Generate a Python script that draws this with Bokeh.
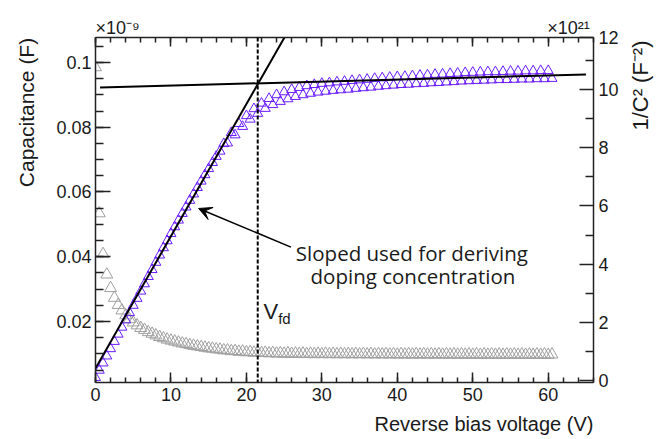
from math import pi
from bokeh.plotting import figure
from bokeh.models import (Range1d, LinearAxis, FixedTicker, CustomJSTickFormatter,
                          Label, Arrow, VeeHead, Span, ColumnDataSource)
from bokeh.embed import file_html
from bokeh.resources import INLINE

# ---------------- data ----------------
voltage = [0.0, 0.5, 1.0, 1.5, 2.0, 2.5, 3.0, 3.5, 4.0, 4.5,
           5.0, 5.5, 6.0, 6.5, 7.0, 7.5, 8.0, 8.5, 9.0, 9.5,
           10.0, 10.5, 11.0, 11.5, 12.0, 12.5, 13.0, 13.5, 14.0, 14.5,
           15.0, 15.5, 16.0, 16.5, 17.0, 17.5, 18.0, 18.5, 19.0, 19.5,
           20.0, 20.5, 21.0, 21.5, 22.0, 22.5, 23.0, 23.5, 24.0, 24.5,
           25.0, 25.5, 26.0, 26.5, 27.0, 27.5, 28.0, 28.5, 29.0, 29.5,
           30.0, 30.5, 31.0, 31.5, 32.0, 32.5, 33.0, 33.5, 34.0, 34.5,
           35.0, 35.5, 36.0, 36.5, 37.0, 37.5, 38.0, 38.5, 39.0, 39.5,
           40.0, 40.5, 41.0, 41.5, 42.0, 42.5, 43.0, 43.5, 44.0, 44.5,
           45.0, 45.5, 46.0, 46.5, 47.0, 47.5, 48.0, 48.5, 49.0, 49.5,
           50.0, 50.5, 51.0, 51.5, 52.0, 52.5, 53.0, 53.5, 54.0, 54.5,
           55.0, 55.5, 56.0, 56.5, 57.0, 57.5, 58.0, 58.5, 59.0, 59.5,
           60.0, 60.5]

# capacitance, in units of 1e-9 F (left axis)
capacitance = [0.0985, 0.0534, 0.0408, 0.0345, 0.0303, 0.0273, 0.0251, 0.0234, 0.0219, 0.0207,
               0.0197, 0.0188, 0.0180, 0.0174, 0.0167, 0.0162, 0.0157, 0.0152, 0.0148, 0.0144,
               0.0141, 0.0138, 0.0135, 0.0132, 0.0130, 0.0127, 0.0125, 0.0123, 0.0121, 0.0119,
               0.0117, 0.0116, 0.0114, 0.0113, 0.01108, 0.01107, 0.01083, 0.01088, 0.01064, 0.01070,
               0.01048, 0.01055, 0.01035, 0.01044, 0.01024, 0.01034, 0.01016, 0.01027, 0.01009, 0.01021,
               0.01004, 0.01016, 0.01000, 0.01012, 0.00996, 0.01009, 0.00993, 0.01006, 0.00991, 0.01004,
               0.00990, 0.01003, 0.00989, 0.01001, 0.00987, 0.01000, 0.00986, 0.00999, 0.00985, 0.00998,
               0.00984, 0.00997, 0.00983, 0.00996, 0.00981, 0.00994, 0.00981, 0.00993, 0.00980, 0.00992,
               0.00979, 0.00991, 0.00978, 0.00991, 0.00977, 0.00990, 0.00976, 0.00990, 0.00976, 0.00989,
               0.00975, 0.00988, 0.00974, 0.00987, 0.00973, 0.00987, 0.00973, 0.00986, 0.00972, 0.00985,
               0.00972, 0.00985, 0.00971, 0.00984, 0.00971, 0.00984, 0.00971, 0.00983, 0.00970, 0.00983,
               0.00970, 0.00983, 0.00970, 0.00982, 0.00969, 0.00982, 0.00969, 0.00982, 0.00969, 0.00982,
               0.00969, 0.00981]

# 1/C^2, in units of 1e21 F^-2 (right axis)
inv_c2 = [0.10, 0.35, 0.60, 0.84, 1.09, 1.34, 1.59, 1.83, 2.08, 2.33,
          2.58, 2.82, 3.07, 3.32, 3.57, 3.81, 4.06, 4.31, 4.56, 4.80,
          5.05, 5.28, 5.51, 5.74, 5.96, 6.19, 6.41, 6.63, 6.85, 7.07,
          7.28, 7.49, 7.70, 7.88, 8.14, 8.16, 8.52, 8.44, 8.83, 8.73,
          9.10, 8.98, 9.34, 9.18, 9.53, 9.35, 9.69, 9.48, 9.82, 9.59,
          9.92, 9.68, 10.00, 9.76, 10.07, 9.82, 10.13, 9.87, 10.17, 9.91,
          10.21, 9.94, 10.23, 9.97, 10.26, 9.99, 10.28, 10.01, 10.31, 10.04,
          10.33, 10.06, 10.35, 10.08, 10.38, 10.11, 10.40, 10.13, 10.42, 10.15,
          10.44, 10.17, 10.45, 10.18, 10.47, 10.20, 10.49, 10.21, 10.50, 10.23,
          10.52, 10.24, 10.53, 10.26, 10.55, 10.27, 10.56, 10.29, 10.58, 10.30,
          10.59, 10.31, 10.60, 10.32, 10.61, 10.33, 10.61, 10.34, 10.62, 10.34,
          10.63, 10.35, 10.63, 10.36, 10.64, 10.36, 10.64, 10.37, 10.65, 10.37,
          10.65, 10.38]

slope_fit_v = [0.0, 27.0]
slope_fit_r = [0.42, 12.68]
plateau_fit_v = [0.6, 65.0]
plateau_fit_r = [10.07, 10.52]
v_fd = 21.5

x_ticks = [0, 10, 20, 30, 40, 50, 60]
x_minor = [0, 2, 4, 6, 8, 10, 12, 14, 16, 18, 20, 22, 24, 26, 28, 30, 32, 34,
           36, 38, 40, 42, 44, 46, 48, 50, 52, 54, 56, 58, 60, 62, 64, 66]
left_ticks = [0.02, 0.04, 0.06, 0.08, 0.1]
left_minor = [0.005, 0.01, 0.015, 0.02, 0.025, 0.03, 0.035, 0.04, 0.045, 0.05, 0.055,
              0.06, 0.065, 0.07, 0.075, 0.08, 0.085, 0.09, 0.095, 0.1, 0.105]
right_ticks = [0, 2, 4, 6, 8, 10, 11.78]   # last one carries the "12" label at the top edge
right_minor = [1, 3, 5, 7, 9, 11]

# anchor positions (in axis units) of the outer texts
exp_ticks = [2.93, 62.7]       # "x10^-9" / "x10^21" multipliers (x, centred)
xlabel_pos = [51.48]           # "Reverse bias voltage (V)" (x, centred)
ylabel_left_pos = [0.1076]     # "Capacitance (F)" ends here (left axis units)
ylabel_right_pos = [8.59]      # "1/C^2 (F^-2)" starts here (right axis units)

# ---------------- figure ----------------
W, H = 668, 439
p = figure(width=W, height=H, output_backend="svg", toolbar_location=None,
           x_range=Range1d(0, 66.0), y_range=Range1d(0.00116, 0.1077),
           x_axis_location=None, y_axis_location=None,
           min_border_left=92, min_border_right=W - 599, min_border_top=37,
           min_border_bottom=H - 382)
p.extra_y_ranges = {"r": Range1d(-0.069, 11.79)}
p.outline_line_color = None
p.background_fill_color = "white"
p.border_fill_color = "white"
for g in p.grid:
    g.visible = False

AX = "#222222"
TXT = "#1a1a1a"
FONT = "Liberation Sans"


def style(ax, tin, tmin):
    ax.axis_line_color = AX
    ax.axis_line_width = 1.5
    ax.major_tick_line_color = AX
    ax.major_tick_line_width = 1.5
    ax.minor_tick_line_color = AX
    ax.minor_tick_line_width = 1.5
    ax.major_tick_in = tin
    ax.major_tick_out = 0
    ax.minor_tick_in = tmin
    ax.minor_tick_out = 0
    ax.major_label_text_font = FONT
    ax.major_label_text_font_size = "18px"
    ax.major_label_text_color = TXT


def text_axis(ax, size, standoff):
    """An axis that only carries a text label (no line, no ticks)."""
    ax.axis_line_color = None
    ax.major_tick_line_color = None
    ax.minor_tick_line_color = None
    ax.major_tick_in = 0
    ax.major_tick_out = 0
    ax.minor_tick_in = 0
    ax.minor_tick_out = 0
    ax.major_label_text_font = FONT
    ax.major_label_text_font_size = size
    ax.major_label_text_color = TXT
    ax.major_label_standoff = standoff


def fixed_text(s):
    return CustomJSTickFormatter(code="return %r" % s)


# bottom axis
xb = LinearAxis(ticker=FixedTicker(ticks=x_ticks, minor_ticks=x_minor))
style(xb, 10, 5)
xb.major_label_standoff = 5
p.add_layout(xb, "below")

xb2 = LinearAxis(ticker=FixedTicker(ticks=xlabel_pos, minor_ticks=[]),
                 formatter=fixed_text("Reverse bias voltage (V)"))
text_axis(xb2, "20px", 9)
p.add_layout(xb2, "below")

# top axis (ticks only)
xt = LinearAxis(ticker=FixedTicker(ticks=x_ticks, minor_ticks=x_minor),
                formatter=CustomJSTickFormatter(code="return ''"))
style(xt, 9, 5)
xt.major_label_text_font_size = "0px"
xt.major_label_standoff = 0
p.add_layout(xt, "above")

xm = LinearAxis(ticker=FixedTicker(ticks=exp_ticks, minor_ticks=[]),
                formatter=CustomJSTickFormatter(
                    code="return tick < 30 ? '\u00d710\u207b\u2079' : '\u00d710\u00b2\u00b9'"))
text_axis(xm, "18px", 0)
p.add_layout(xm, "above")

# left axis
yl = LinearAxis(ticker=FixedTicker(ticks=left_ticks, minor_ticks=left_minor),
                formatter=CustomJSTickFormatter(code="return String(Math.round(tick*1000)/1000)"))
style(yl, 15, 8)
yl.major_label_standoff = 4
p.add_layout(yl, "left")

yl2 = LinearAxis(ticker=FixedTicker(ticks=ylabel_left_pos, minor_ticks=[]),
                 formatter=fixed_text("Capacitance (F)"))
text_axis(yl2, "21px", 27)
yl2.major_label_orientation = pi / 2
p.add_layout(yl2, "left")

# right axis
yr = LinearAxis(y_range_name="r", ticker=FixedTicker(ticks=right_ticks, minor_ticks=right_minor),
                formatter=CustomJSTickFormatter(code="return tick > 11 ? '12' : String(Math.round(tick))"))
style(yr, 14, 8)
yr.major_label_standoff = 5
p.add_layout(yr, "right")

yr2 = LinearAxis(y_range_name="r", ticker=FixedTicker(ticks=ylabel_right_pos, minor_ticks=[]),
                 formatter=fixed_text("1/C\u00b2 (F\u207b\u00b2)"))
text_axis(yr2, "22px", 19)
yr2.major_label_orientation = pi / 2
p.add_layout(yr2, "right")

# ---------------- data glyphs ----------------
src = ColumnDataSource(dict(v=voltage, c=capacitance, r=inv_c2))
p.scatter("v", "c", source=src, marker="triangle", size=12, fill_color=None,
          line_color="#a0a0a0", line_width=1)
p.scatter("v", "r", source=src, y_range_name="r", marker="triangle", size=10,
          fill_color=None, line_color="#6a1cff", line_width=1)

p.line(slope_fit_v, slope_fit_r, y_range_name="r", line_color="black", line_width=2)
p.line(plateau_fit_v, plateau_fit_r, y_range_name="r", line_color="black", line_width=2)
p.add_layout(Span(location=v_fd, dimension="height", line_color="black",
                  line_dash="4 2", line_width=2))


# ---------------- annotations inside the frame ----------------
def fx(px):
    return (px - 92) / 7.683


def fy(py):
    return 0.00116 + (382 - py) / 3237.5


def lab(text, px, py, size, font=FONT):
    p.add_layout(Label(x=fx(px), y=fy(py), text=text, text_font=font,
                       text_font_size=size, text_align="left", text_baseline="alphabetic",
                       text_color=TXT))


lab("Sloped used for deriving", 296, 253, "20.5px", font="Open Sans")
lab("doping concentration", 311, 276, "20.5px", font="Open Sans")
lab("V", 263, 311, "22px")
lab("fd", 278, 318, "15px")

p.add_layout(Arrow(x_start=fx(291), y_start=fy(246.7), x_end=fx(197), y_end=fy(208),
                   line_color="black", line_width=1.5,
                   end=VeeHead(size=13, fill_color="black", line_color="black")))

open("out.html", "w").write(file_html(p, INLINE))
